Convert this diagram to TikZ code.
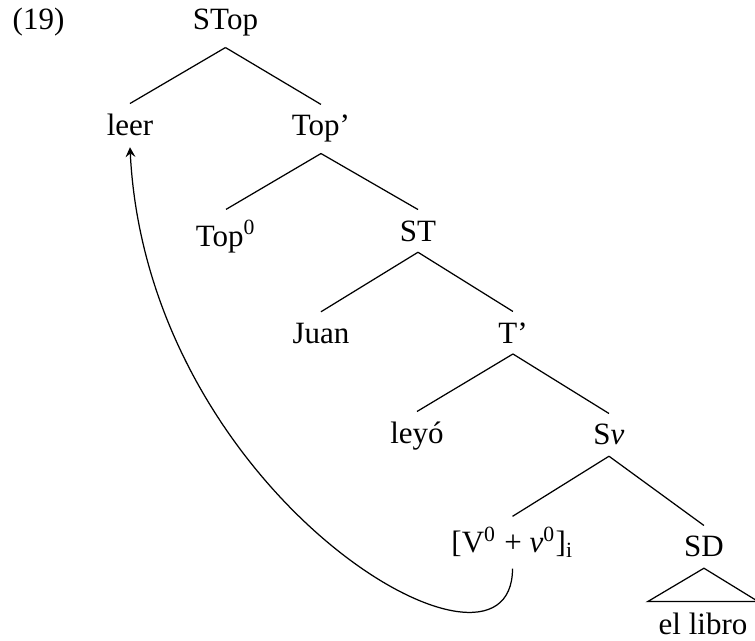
\documentclass[tikz,border=0pt]{standalone}
\usepackage{fontspec}
\setmainfont{Liberation Serif}
\begin{document}
\begin{tikzpicture}[cat/.style={anchor=base}]
\useasboundingbox (0,0) rectangle (8.562,-7.269);
\node[anchor=base west] (ex) at (0.02,-0.34) {(19)};
\node[cat] (stop) at (2.557,-0.34) {STop};
\node[cat] (leer) at (1.474,-1.542) {leer};
\node[cat] (topbar) at (3.64,-1.542) {Top'};
\node[cat] (topzero) at (2.563,-2.79) {Top\textsuperscript{0}};
\node[cat] (st) at (4.74,-2.733) {ST};
\node[cat] (juan) at (3.64,-3.89) {Juan};
\node[cat] (tbar) at (5.817,-3.89) {T'};
\node[cat] (leyo) at (4.729,-5.035) {leyó};
\node[cat] (sv) at (6.906,-5.046) {S\textit{v}};
\node[cat] (vv) at (5.812,-6.271) {[V\textsuperscript{0} + \textit{v}\textsuperscript{0}]\textsubscript{i}};
\node[cat] (sd) at (7.983,-6.316) {SD};
\node[cat] (libro) at (7.972,-7.19) {el libro};
\draw (stop.south)--(leer.north);
\draw (stop.south)--(topbar.north);
\draw (topbar.south)--(topzero.north);
\draw (topbar.south)--(st.north);
\draw (st.south)--(juan.north);
\draw (st.south)--(tbar.north);
\draw (tbar.south)--(leyo.north);
\draw (tbar.south)--(sv.north);
\draw (sv.south)--(vv.north);
\draw (sv.south)--(sd.north);
\draw (sd.south)--(libro.north west)--(libro.north east)--cycle;
\draw[-stealth] (vv.south) .. controls +(0,-1.59) and +(0.2,-3.97) .. (leer.south);
\end{tikzpicture}
\end{document}
